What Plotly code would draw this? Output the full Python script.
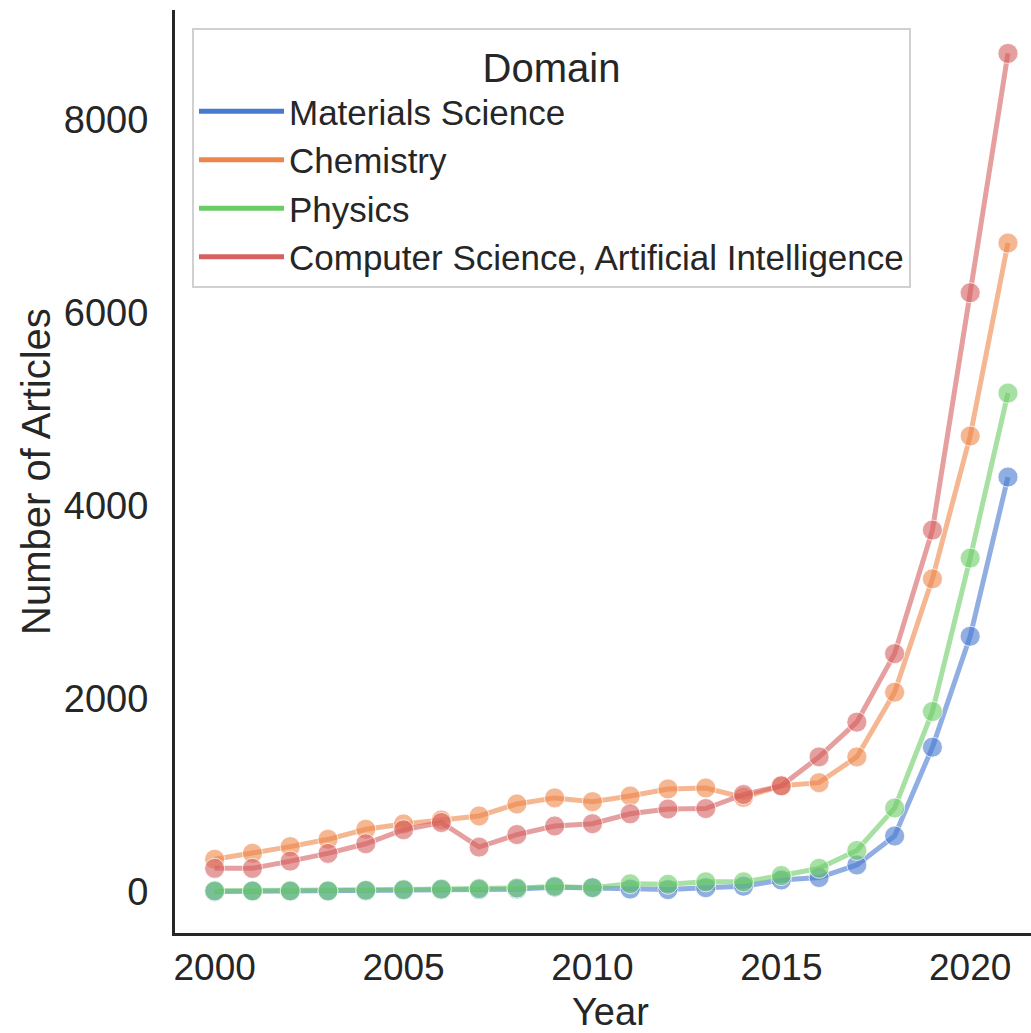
import plotly.graph_objects as go

years = list(range(2000, 2022))
domains = ["Materials Science", "Chemistry", "Physics", "Computer Science, Artificial Intelligence"]
materials = [5, 8, 8, 8, 12, 20, 25, 25, 30, 50, 45, 30, 25, 45, 60, 124, 150, 280, 580, 1500, 2650, 4300]
chemistry = [339, 401, 470, 546, 650, 705, 746, 788, 912, 975, 936, 995, 1068, 1078, 981, 1100, 1133, 1400, 2070, 3245, 4725, 6725]
physics = [12, 12, 12, 12, 18, 25, 30, 35, 42, 58, 45, 85, 80, 105, 105, 170, 245, 430, 870, 1870, 3460, 5170]
cs_ai = [245, 245, 320, 400, 500, 645, 720, 465, 595, 684, 708, 810, 860, 865, 1010, 1100, 1400, 1760, 2470, 3750, 6210, 8690]
series = [materials, chemistry, physics, cs_ai]
colors = ["#4878d0", "#ee854a", "#6acc64", "#d65f5f"]
fills = ["rgba(72,120,208,0.6)", "rgba(238,133,74,0.6)", "rgba(106,204,100,0.6)", "rgba(214,95,95,0.6)"]

fig = go.Figure()
for name, vals, c, f in zip(domains, series, colors, fills):
    fig.add_trace(go.Scatter(
        x=years, y=vals, mode="lines+markers", name=name, showlegend=False,
        line=dict(color=f, width=5),
        marker=dict(size=20, color=f, line=dict(color="rgba(255,255,255,0.7)", width=1)),
    ))
for name, c in zip(domains, colors):
    fig.add_trace(go.Scatter(
        x=[None], y=[None], mode="lines", name=name,
        line=dict(color=c, width=5),
    ))

font = "Liberation Sans, Arial, sans-serif"
L, T, B = 175, 10, 100
W, H = 1031, 1033
pw, ph = W - L, H - T - B

fig.update_layout(
    width=W, height=H,
    margin=dict(l=L, r=0, t=T, b=B, autoexpand=False),
    paper_bgcolor="white", plot_bgcolor="white",
    font=dict(family=font, color="#262626", size=38),
    xaxis=dict(
        range=[1998.95, 2021.61], tickvals=[2000, 2005, 2010, 2015, 2020],
        showgrid=False, zeroline=False, showline=True, linecolor="#262626", linewidth=3,
        ticks="", ticklabelstandoff=0, tickfont=dict(size=37), automargin=False,
    ),
    yaxis=dict(
        range=[-425, 9140], tickvals=[0, 2000, 4000, 6000, 8000],
        showgrid=False, zeroline=False, showline=True, linecolor="#262626", linewidth=3,
        ticks="", ticklabelstandoff=16, tickfont=dict(size=38), automargin=False,
    ),
    legend=dict(
        x=(192 - L) / pw, y=(H - B - 28) / ph, xanchor="left", yanchor="top",
        bgcolor="rgba(255,255,255,0.9)", bordercolor="#d0d0d0", borderwidth=2,
        font=dict(size=35, color="#262626"),
        title=dict(text="Domain", side="top center", font=dict(size=40)),
        tracegroupgap=0, itemwidth=85,
    ),
    annotations=[
        dict(text="Year", xref="paper", yref="paper", x=(610 - L) / pw, y=-(1012 - (H - B)) / ph,
             xanchor="center", yanchor="middle", showarrow=False, font=dict(size=38)),
        dict(text="Number of Articles", xref="paper", yref="paper", x=(36 - L) / pw, y=((H - B) - 472) / ph,
             xanchor="center", yanchor="middle", textangle=-90, showarrow=False, font=dict(size=40)),
    ],
)
fig.write_html("out.html", config={"displayModeBar": False},
               post_script="document.body.style.margin='0px';document.body.style.overflow='hidden';")
